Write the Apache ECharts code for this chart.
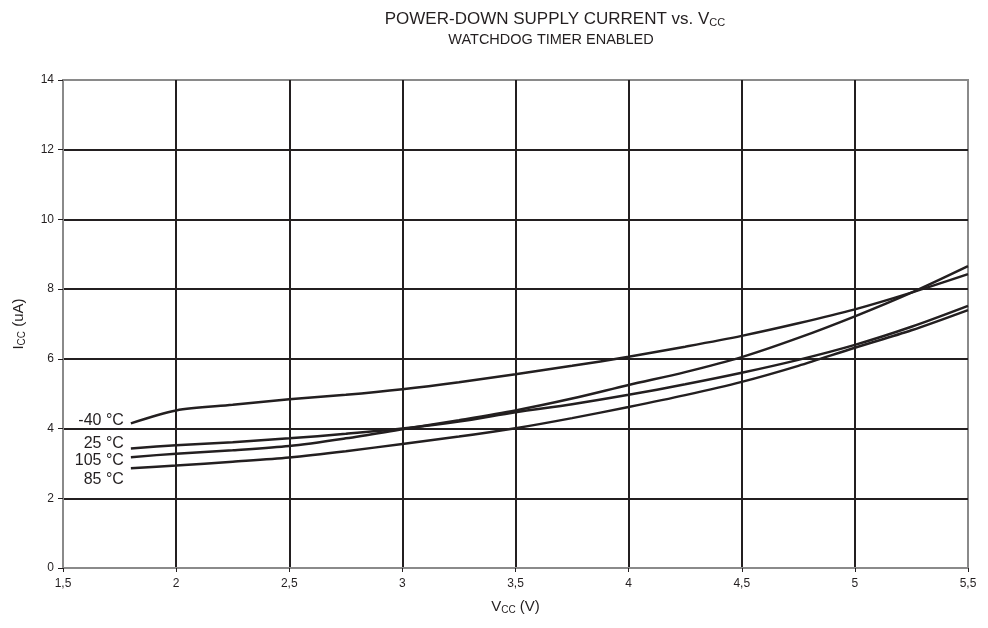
<!DOCTYPE html>
<html><head><meta charset="utf-8">
<script src="https://cdn.jsdelivr.net/npm/echarts@6/dist/echarts.min.js"></script>
<style>html,body{margin:0;padding:0;background:#fff}#c{width:988px;height:628px}</style>
</head><body><div id="c"></div>
<script>
const vcc = [1.8, 2.0, 2.25, 2.5, 2.75, 3.0, 3.25, 3.5, 3.75, 4.0, 4.25, 4.5, 4.75, 5.0, 5.25, 5.5];
const tM40 = [4.15, 4.52, 4.68, 4.84, 4.97, 5.13, 5.33, 5.56, 5.80, 6.06, 6.35, 6.66, 7.02, 7.42, 7.90, 8.43];
const t25  = [3.43, 3.52, 3.61, 3.72, 3.85, 4.00, 4.20, 4.47, 4.70, 4.97, 5.27, 5.60, 5.97, 6.40, 6.92, 7.52];
const t105 = [3.18, 3.28, 3.38, 3.50, 3.72, 3.98, 4.24, 4.52, 4.86, 5.25, 5.62, 6.05, 6.60, 7.22, 7.90, 8.66];
const t85  = [2.86, 2.94, 3.05, 3.17, 3.35, 3.56, 3.77, 4.01, 4.30, 4.62, 4.96, 5.34, 5.80, 6.32, 6.82, 7.40];
const seriesNames = ['-40 °C', '25 °C', '105 °C', '85 °C'];
const seriesData = [tM40, t25, t105, t85];
const labelOffsets = [[-2, -3], [-2, -5], [-2, 3], [-2, 11]];
const xTicks = ['1,5','2','2,5','3','3,5','4','4,5','5','5,5'];

const ink = '#231f20';
const FF = 'Liberation Sans';
const chart = echarts.init(document.getElementById('c'), null, {renderer: 'canvas'});
const series = [];
seriesData.forEach((arr, i) => {
  series.push({
    type: 'line', name: seriesNames[i], smooth: 0.3, showSymbol: false, symbol: 'none',
    lineStyle: {color: ink, width: 2.5}, silent: true, z: 5,
    data: arr.map((v, j) => [vcc[j], v])
  });
  series.push({
    type: 'scatter', name: seriesNames[i] + ' label', silent: true, z: 6,
    symbol: 'circle', symbolSize: 2, itemStyle: {color: 'rgba(0,0,0,0)', opacity: 1},
    label: {show: true, formatter: seriesNames[i], position: 'left', distance: 4, offset: labelOffsets[i], color: ink, opacity: 1, fontSize: 16, fontFamily: FF},
    data: [[vcc[0], arr[0]]]
  });
});
chart.setOption({
  animation: false,
  backgroundColor: '#fff',
  title: [{
    text: '{a|POWER-DOWN SUPPLY CURRENT vs. V}{s|CC}',
    left: 550, top: 5, textAlign: 'center',
    textStyle: {fontWeight: 'normal', rich: {a: {fontSize: 17, color: ink, fontFamily: FF}, s: {fontSize: 11, color: ink, fontFamily: FF, padding: [7, 0, 0, 0]}}}
  }, {
    text: 'WATCHDOG TIMER ENABLED', left: 546, top: 27, textAlign: 'center',
    textStyle: {fontSize: 14.5, fontWeight: 'normal', color: ink, fontFamily: FF}
  }],
  grid: {left: 63, right: 20, top: 80, bottom: 60, show: true, borderColor: '#8a8a8a', borderWidth: 2, backgroundColor: 'transparent'},
  xAxis: {
    type: 'value', min: 1.5, max: 5.5, interval: 0.5,
    name: '{a|V}{s|CC}{a| (V)}', nameLocation: 'middle', nameGap: 30,
    nameTextStyle: {rich: {a: {fontSize: 15, color: ink, fontFamily: FF}, s: {fontSize: 10, color: ink, fontFamily: FF, padding: [7, 0, 0, 0]}}},
    axisLine: {show: true, lineStyle: {color: '#8a8a8a', width: 2}},
    axisTick: {show: true, length: 4, lineStyle: {color: ink}},
    axisLabel: {color: ink, fontSize: 12, fontFamily: FF, margin: 10,
      formatter: v => xTicks[Math.round((v - 1.5) / 0.5)]},
    splitLine: {show: true, showMinLine: false, showMaxLine: false, lineStyle: {color: ink, width: 2}}
  },
  yAxis: {
    type: 'value', min: 0, max: 14, interval: 2,
    name: '{a|I}{s|CC}{a| (uA)}', nameLocation: 'middle', nameGap: 36, nameRotate: 90,
    nameTextStyle: {rich: {a: {fontSize: 15, color: ink, fontFamily: FF}, s: {fontSize: 10, color: ink, fontFamily: FF, padding: [7, 0, 0, 0]}}},
    axisLine: {show: true, lineStyle: {color: '#8a8a8a', width: 2}},
    axisTick: {show: true, length: 5, lineStyle: {color: ink}},
    axisLabel: {color: ink, fontSize: 12, fontFamily: FF, margin: 9},
    splitLine: {show: true, showMinLine: false, showMaxLine: false, lineStyle: {color: ink, width: 2}}
  },
  series: series
});
</script></body></html>
